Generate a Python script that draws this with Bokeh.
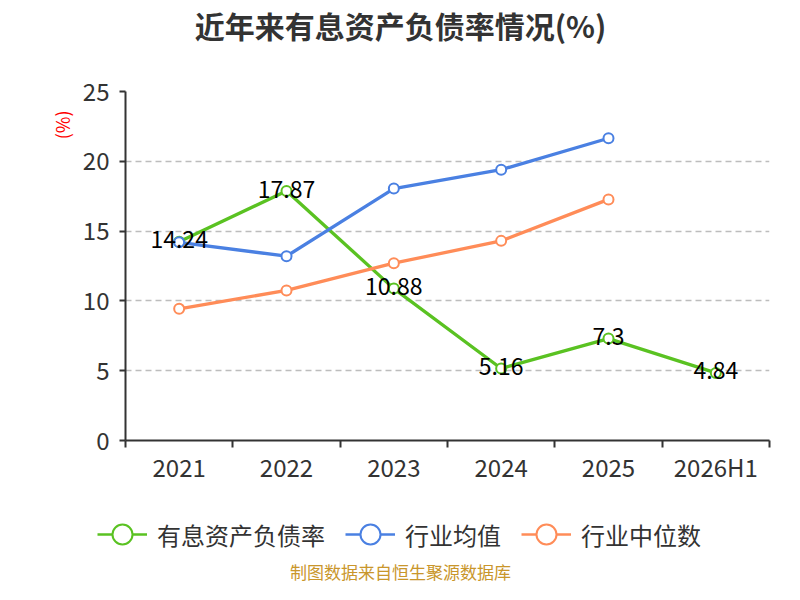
from bokeh.plotting import figure
from bokeh.layouts import column
from bokeh.models import (Range1d, FixedTicker, ColumnDataSource, LabelSet, Label,
                          Legend, LegendItem, Title)
from bokeh.core.properties import value
from bokeh.embed import file_html
from bokeh.resources import INLINE

# ---- data ----
categories = ["2021", "2022", "2023", "2024", "2025", "2026H1"]
debt_ratio = [14.24, 17.87, 10.88, 5.16, 7.3, 4.84]          # 有息资产负债率
industry_avg = [14.2, 13.2, 18.05, 19.4, 21.65]               # 行业均值
industry_median = [9.43, 10.75, 12.7, 14.3, 17.27]            # 行业中位数
y_ticks = [0, 5, 10, 15, 20, 25]

title_text = "近年来有息资产负债率情况(%)"
y_unit = "(%)"
series_names = ["有息资产负债率", "行业均值", "行业中位数"]
colors = ["#5ac222", "#4a80e2", "#ff8c58"]
source_text = "制图数据来自恒生聚源数据库"

FONT = "Noto Sans CJK SC"
W = 784
n = len(categories)
xpos = [i + 0.5 for i in range(n)]
series = [debt_ratio, industry_avg, industry_median]


def strip(height):
    f = figure(width=W, height=height, output_backend="svg", toolbar_location=None,
               x_range=Range1d(1000, 1000 + W), y_range=Range1d(1000, 1000 + height),
               x_axis_type=None, y_axis_type=None,
               min_border_left=0, min_border_right=0, min_border_top=0,
               min_border_bottom=0)
    f.outline_line_color = None
    f.grid.visible = False
    f.background_fill_color = "white"
    f.border_fill_color = "white"
    f.title.visible = False
    return f


# ---------------- title strip ----------------
H1 = 48
t = strip(H1)
t.add_layout(Label(x=400, y=24, x_units="screen", y_units="screen", text=title_text,
                   text_align="center", text_baseline="middle", text_font=FONT,
                   text_font_size="30px", text_font_style="bold",
                   text_color="#333333"))

# ---------------- main chart ----------------
p = figure(width=W, height=442, output_backend="svg", toolbar_location=None,
           x_range=Range1d(0, n), y_range=Range1d(y_ticks[0], y_ticks[-1]),
           min_border_left=125, min_border_right=15, min_border_top=43,
           min_border_bottom=50)
p.outline_line_color = None
p.background_fill_color = "white"
p.border_fill_color = "white"
p.title.visible = False

# axes
p.xaxis.ticker = FixedTicker(ticks=xpos, minor_ticks=list(range(n + 1)))
p.xaxis.major_label_overrides = {x: c for x, c in zip(xpos, categories)}
p.xaxis.major_tick_out = 0
p.xaxis.major_tick_in = 0
p.xaxis.minor_tick_out = 7
p.xaxis.minor_tick_in = 0
p.xaxis.minor_tick_line_color = "#333333"
p.xaxis.minor_tick_line_width = 2
p.xaxis.major_label_standoff = 1
p.yaxis.ticker = FixedTicker(ticks=y_ticks)
p.yaxis.major_tick_out = 6
p.yaxis.major_tick_in = 0
p.yaxis.major_tick_line_width = 2
p.yaxis.major_label_standoff = 10
for ax in (p.xaxis, p.yaxis):
    ax.axis_line_color = "#333333"
    ax.axis_line_width = 2
    ax.major_tick_line_color = "#333333"
    ax.major_label_text_font = FONT
    ax.major_label_text_font_size = "24px"
    ax.major_label_text_color = "#333333"

# unit label of the y axis
p.add_layout(Title(text=y_unit, align="right", offset=19, text_font=FONT,
                   text_font_size="18px", text_font_style="normal",
                   text_color="red"), "left")

p.xgrid.visible = False
p.ygrid.ticker = FixedTicker(ticks=y_ticks[1:])
p.ygrid.grid_line_color = "#bdbdbd"
p.ygrid.grid_line_dash = "6 4"
p.ygrid.grid_line_width = 1.5

# series
for vals, col in zip(series, colors):
    xs = xpos[:len(vals)]
    p.line(xs, vals, line_color=col, line_width=3.3)
    p.scatter(xs, vals, marker="circle", size=10, fill_color="white",
              line_color=col, line_width=2)

# data labels for debt ratio
lab_src = ColumnDataSource(dict(x=xpos[:len(debt_ratio)], y=debt_ratio,
                                t=[str(v) for v in debt_ratio]))
p.add_layout(LabelSet(x="x", y="y", text="t", source=lab_src, text_align="center",
                      text_baseline="middle", y_offset=2, text_font=value(FONT),
                      text_font_size=value("23px"), text_color="black"))

# ---------------- legend + source strip ----------------
H2 = 94
q = strip(H2)   # its ranges keep the legend's renderers outside the visible frame

for fig in (t, p, q):
    try:
        fig.frame_align = False
    except Exception:
        pass

items = []
for name, vals, col in zip(series_names, series, colors):
    xs = xpos[:len(vals)]
    lr = q.line(xs, vals, line_color=col, line_width=2.5)
    sr = q.scatter(xs, vals, marker="circle", fill_color="white", line_color=col,
                   line_width=2)
    items.append(LegendItem(label=name, renderers=[lr, sr]))

legend = Legend(items=items, orientation="horizontal", location=(97, 25),
                glyph_width=50, glyph_height=50, label_standoff=10, spacing=20,
                padding=0, margin=0, border_line_color=None, background_fill_alpha=0,
                label_text_font=FONT, label_text_font_size="24px",
                label_text_color="#333333")
q.add_layout(legend, "center")

q.add_layout(Label(x=400, y=13, x_units="screen", y_units="screen", text=source_text,
                   text_align="center", text_baseline="middle", text_font=FONT,
                   text_font_size="17px", text_color="#c9962b"))

layout = column(t, p, q, spacing=0)
open("out.html", "w").write(file_html(layout, INLINE))
